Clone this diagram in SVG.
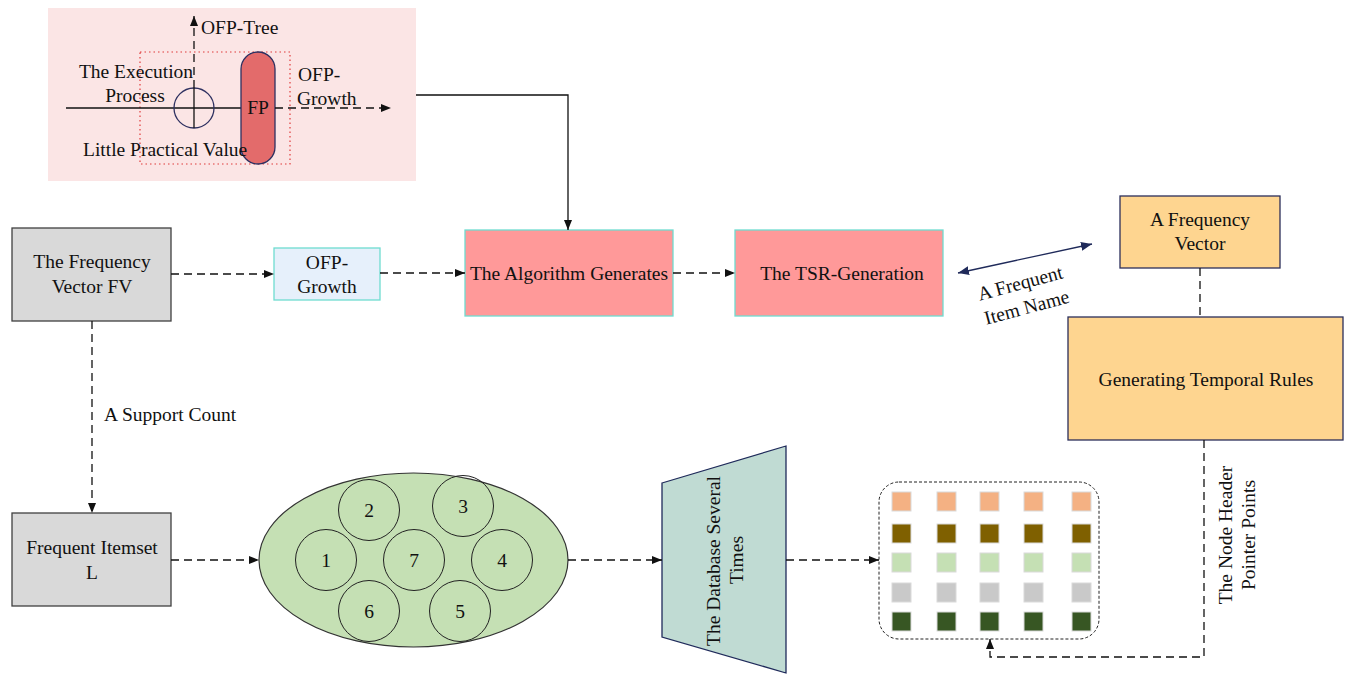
<svg xmlns="http://www.w3.org/2000/svg" width="1351" height="674" viewBox="0 0 1351 674">
<style>
text{font-family:"Liberation Serif","Times New Roman",serif;font-size:19.5px;fill:#111}
.c{text-anchor:middle}
.ln{fill:none;stroke:#111;stroke-width:1.3}
.d{stroke-dasharray:8,5}
.box{stroke-width:1.3}
.grey{fill:#d9d9d9;stroke:#404040}
.pinkbox{fill:#ff9999;stroke:#6fdcd0}
.orange{fill:#fed590;stroke:#2b2f5a}
.sq{stroke:#dadada;stroke-width:1}
.small{fill:none;stroke:#222;stroke-width:1}
</style>
<defs>
<marker id="ah" viewBox="0 0 10 10" refX="10" refY="5" markerWidth="10" markerHeight="10" markerUnits="userSpaceOnUse" orient="auto-start-reverse">
<path d="M0,1 L10,5 L0,9 z" fill="#111"/>
</marker>
<marker id="an" viewBox="0 0 10 10" refX="10" refY="5" markerWidth="11" markerHeight="11" markerUnits="userSpaceOnUse" orient="auto-start-reverse">
<path d="M0,1 L10,5 L0,9 z" fill="#1f2a5a"/>
</marker>
</defs>

<g id="panel-top">
<rect x="48" y="8" width="368" height="173" fill="#fbe5e5"/>
<rect x="140" y="52" width="150" height="112" fill="none" stroke="#e03a3a" stroke-width="1.2" stroke-dasharray="1.5,3"/>
<line class="ln" x1="66" y1="108" x2="241" y2="108"/>
<circle cx="194" cy="108" r="20" fill="none" stroke="#2e3060" stroke-width="1.3"/>
<line class="ln" x1="194" y1="88" x2="194" y2="128"/>
<line class="ln d" x1="194" y1="88" x2="194" y2="16" marker-end="url(#ah)"/>
<rect x="241" y="52" width="34" height="112" rx="17" fill="#e36b6b" stroke="#2e3060" stroke-width="1.3"/>
<line class="ln d" x1="275" y1="108" x2="391" y2="108" marker-end="url(#ah)"/>
<text x="201" y="34">OFP-Tree</text>
<text class="c" x="136" y="78">The Execution</text>
<text class="c" x="135" y="102">Process</text>
<text x="83" y="156">Little Practical Value</text>
<text x="298" y="81">OFP-</text>
<text x="297" y="105">Growth</text>
<text class="c" x="258" y="114">FP</text>
</g>

<g id="node-fv">
<rect class="box grey" x="12" y="228" width="159" height="93"/>
<text class="c" x="92" y="268">The Frequency</text>
<text class="c" x="92" y="293">Vector FV</text>
</g>

<g id="node-ofp">
<rect class="box" x="274" y="248" width="106" height="52" fill="#e6f0fb" stroke="#6fdcd0"/>
<text class="c" x="327" y="269">OFP-</text>
<text class="c" x="327" y="293">Growth</text>
</g>

<g id="node-alg">
<rect class="box pinkbox" x="465" y="230" width="208" height="86"/>
<text class="c" x="569" y="280">The Algorithm Generates</text>
</g>

<g id="node-tsr">
<rect class="box pinkbox" x="735" y="230" width="208" height="86"/>
<text class="c" x="842" y="280">The TSR-Generation</text>
</g>

<g id="node-afv">
<rect class="box orange" x="1120" y="196" width="160" height="72"/>
<text class="c" x="1200" y="226">A Frequency</text>
<text class="c" x="1200" y="250">Vector</text>
</g>

<g id="node-gtr">
<rect class="box orange" x="1068" y="317" width="275" height="123"/>
<text class="c" x="1206" y="386">Generating Temporal Rules</text>
</g>

<g id="node-fi">
<rect class="box grey" x="12" y="513" width="159" height="93"/>
<text class="c" x="92" y="554">Frequent Itemset</text>
<text class="c" x="92" y="579">L</text>
</g>

<g id="node-ellipse">
<ellipse cx="413.5" cy="560" rx="154.5" ry="87" fill="#c5e0b4" stroke="#333" stroke-width="1.2"/>
<circle class="small" cx="326" cy="560" r="30.5"/>
<circle class="small" cx="369" cy="510" r="30.5"/>
<circle class="small" cx="463" cy="506" r="30.5"/>
<circle class="small" cx="502" cy="560" r="30.5"/>
<circle class="small" cx="460" cy="611" r="30.5"/>
<circle class="small" cx="369" cy="611" r="30.5"/>
<circle class="small" cx="414" cy="560" r="30.5"/>
<text class="c" x="326" y="567">1</text>
<text class="c" x="369" y="517">2</text>
<text class="c" x="463" y="513">3</text>
<text class="c" x="502" y="567">4</text>
<text class="c" x="460" y="618">5</text>
<text class="c" x="369" y="618">6</text>
<text class="c" x="414" y="567">7</text>
</g>

<g id="node-db">
<polygon points="662,483 786,446 786,673 662,637" fill="#c0dbd3" stroke="#1f2a5a" stroke-width="1.3"/>
<text class="c" transform="translate(720,561) rotate(-90)">The Database Several</text>
<text class="c" transform="translate(743,560) rotate(-90)">Times</text>
</g>

<g id="node-grid">
<rect x="879" y="482" width="220" height="157" rx="20" fill="#fff" stroke="#222" stroke-width="1" stroke-dasharray="3,2"/>
<g fill="#f4b183">
<rect class="sq" x="892" y="492" width="19" height="19"/><rect class="sq" x="937" y="492" width="19" height="19"/><rect class="sq" x="980" y="492" width="19" height="19"/><rect class="sq" x="1024" y="492" width="19" height="19"/><rect class="sq" x="1072" y="492" width="19" height="19"/>
</g>
<g fill="#7f6000">
<rect class="sq" x="892" y="524" width="19" height="19"/><rect class="sq" x="937" y="524" width="19" height="19"/><rect class="sq" x="980" y="524" width="19" height="19"/><rect class="sq" x="1024" y="524" width="19" height="19"/><rect class="sq" x="1072" y="524" width="19" height="19"/>
</g>
<g fill="#c5e0b4">
<rect class="sq" x="892" y="553" width="19" height="19"/><rect class="sq" x="937" y="553" width="19" height="19"/><rect class="sq" x="980" y="553" width="19" height="19"/><rect class="sq" x="1024" y="553" width="19" height="19"/><rect class="sq" x="1072" y="553" width="19" height="19"/>
</g>
<g fill="#c9c9c9">
<rect class="sq" x="892" y="583" width="19" height="19"/><rect class="sq" x="937" y="583" width="19" height="19"/><rect class="sq" x="980" y="583" width="19" height="19"/><rect class="sq" x="1024" y="583" width="19" height="19"/><rect class="sq" x="1072" y="583" width="19" height="19"/>
</g>
<g fill="#375623">
<rect class="sq" x="892" y="612" width="19" height="19"/><rect class="sq" x="937" y="612" width="19" height="19"/><rect class="sq" x="980" y="612" width="19" height="19"/><rect class="sq" x="1024" y="612" width="19" height="19"/><rect class="sq" x="1072" y="612" width="19" height="19"/>
</g>
</g>

<g id="connectors">
<polyline class="ln" points="416,95 568,95 568,230" marker-end="url(#ah)"/>
<line class="ln d" x1="171" y1="274" x2="274" y2="274" marker-end="url(#ah)"/>
<line class="ln d" x1="380" y1="273" x2="465" y2="273" marker-end="url(#ah)"/>
<line class="ln d" x1="673" y1="273" x2="735" y2="273" marker-end="url(#ah)"/>
<line x1="958" y1="273" x2="1092" y2="244" stroke="#1f2a5a" stroke-width="1.3" marker-start="url(#an)" marker-end="url(#an)"/>
<line class="ln d" x1="1200" y1="268" x2="1200" y2="317"/>
<line class="ln d" x1="92" y1="321" x2="92" y2="513" marker-end="url(#ah)"/>
<line class="ln d" x1="171" y1="560" x2="259" y2="560" marker-end="url(#ah)"/>
<line class="ln d" x1="568" y1="560" x2="662" y2="560" marker-end="url(#ah)"/>
<line class="ln d" x1="786" y1="560" x2="879" y2="560" marker-end="url(#ah)"/>
<polyline class="ln d" points="1204,440 1204,657 990,657 990,639" marker-end="url(#ah)"/>
<text x="104" y="421">A Support Count</text>
<g transform="translate(1025,301) rotate(-15)">
<text class="c" x="0" y="-12">A Frequent</text>
<text class="c" x="0" y="13">Item Name</text>
</g>
<text class="c" transform="translate(1232,535) rotate(-90)">The Node Header</text>
<text class="c" transform="translate(1255,535) rotate(-90)">Pointer Points</text>
</g>
</svg>
